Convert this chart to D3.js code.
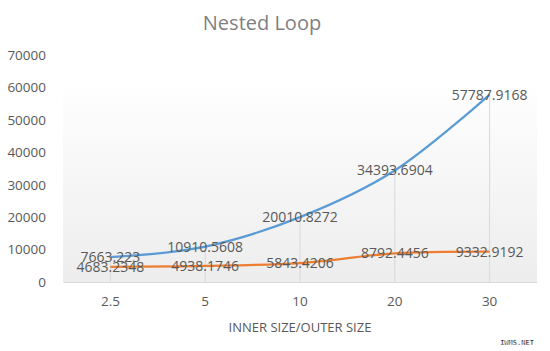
<!DOCTYPE html>
<html>
<head>
<meta charset="utf-8">
<script src="https://cdn.jsdelivr.net/npm/d3@7"></script>
<style>
    body { margin: 0; background: #fff; }
    text { font-family: "Open Sans", "Noto Sans", sans-serif; }
</style>
</head>
<body>
<script>
var categories = ['2.5', '5', '10', '20', '30'];
var blueValues = [7663.223, 10910.5608, 20010.8272, 34393.6904, 57787.9168];
var orangeValues = [4683.2348, 4938.1746, 5843.4206, 8792.4456, 9332.9192];
var yTicks = [0, 10000, 20000, 30000, 40000, 50000, 60000, 70000];

var width = 550, height = 351;
var plotLeft = 63, plotRight = 537, plotTop = 55, plotBottom = 282;

var svg = d3.select('body').append('svg')
    .attr('width', width)
    .attr('height', height);

var defs = svg.append('defs');
var grad = defs.append('linearGradient')
    .attr('id', 'bg')
    .attr('x1', 0).attr('y1', 0)
    .attr('x2', 0).attr('y2', 1);
grad.append('stop').attr('offset', '0%').attr('stop-color', '#ffffff');
grad.append('stop').attr('offset', '100%').attr('stop-color', '#ededed');

var x = d3.scaleBand()
    .domain(categories)
    .range([plotLeft, plotRight]);

var y = d3.scaleLinear()
    .domain([0, 70000])
    .range([plotBottom, plotTop]);

// plot area background
svg.append('rect')
    .attr('x', plotLeft)
    .attr('y', 80)
    .attr('width', plotRight - plotLeft)
    .attr('height', plotBottom - 80)
    .style('fill', 'url(#bg)');

// title
svg.append('text')
    .attr('x', 262)
    .attr('y', 30)
    .text('Nested Loop')
    .attr('text-anchor', 'middle')
    .style('font-size', '20px')
    .style('fill', '#7f7f7f');

// drop lines from the higher point down to the axis
categories.forEach(function(c, i) {
    var hi = Math.max(blueValues[i], orangeValues[i]);
    svg.append('line')
        .attr('x1', x(c) + x.bandwidth() / 2)
        .attr('x2', x(c) + x.bandwidth() / 2)
        .attr('y1', y(hi))
        .attr('y2', y(0))
        .style('stroke', '#d9d9d9')
        .style('stroke-width', 1);
});

// axes
var yAxis = svg.append('g')
    .attr('transform', 'translate(' + (plotLeft - 17) + ',0)')
    .call(d3.axisLeft(y).tickValues(yTicks).tickSize(0).tickPadding(0).tickFormat(d3.format('d')));
yAxis.select('.domain').remove();
yAxis.selectAll('text')
    .style('font-size', '13.5px')
    .style('fill', '#595959')
    .style('font-family', '"Open Sans", sans-serif');

var xAxis = svg.append('g')
    .attr('transform', 'translate(0,' + plotBottom + ')')
    .call(d3.axisBottom(x).tickSize(0).tickPadding(14));
xAxis.select('.domain')
    .style('stroke', '#d9d9d9');
xAxis.selectAll('text')
    .style('font-size', '13.5px')
    .style('fill', '#595959')
    .style('font-family', '"Open Sans", sans-serif');

svg.append('text')
    .attr('x', (plotLeft + plotRight) / 2)
    .attr('y', 332)
    .text('INNER SIZE/OUTER SIZE')
    .attr('text-anchor', 'middle')
    .style('font-size', '13px')
    .style('fill', '#595959');

// lines
var line = d3.line()
    .x(function(d, i) { return x(categories[i]) + x.bandwidth() / 2; })
    .y(function(d) { return y(d); })
    .curve(d3.curveCatmullRom.alpha(0.5));

[[blueValues, '#5b9bd5'], [orangeValues, '#ed7d31']].forEach(function(s) {
    svg.append('path')
        .datum(s[0])
        .attr('d', line)
        .style('fill', 'none')
        .style('stroke', s[1])
        .style('stroke-width', 2.25);
});

// data labels
[blueValues, orangeValues].forEach(function(vals) {
    vals.forEach(function(v, i) {
        svg.append('text')
            .attr('x', x(categories[i]) + x.bandwidth() / 2)
            .attr('y', y(v) + 5)
            .text(v)
            .attr('text-anchor', 'middle')
            .style('font-size', '14px')
            .style('fill', '#595959');
    });
});

// watermark
svg.append('text')
    .attr('x', 517)
    .attr('y', 345)
    .text('IWMS.NET')
    .attr('text-anchor', 'middle')
    .style('font-size', '7px')
    .style('font-weight', 'bold')
    .style('fill', '#000')
    .style('stroke', '#fff')
    .style('stroke-width', 0.3)
    .style('font-family', '"DejaVu Sans Mono", monospace');
</script>
</body>
</html>
